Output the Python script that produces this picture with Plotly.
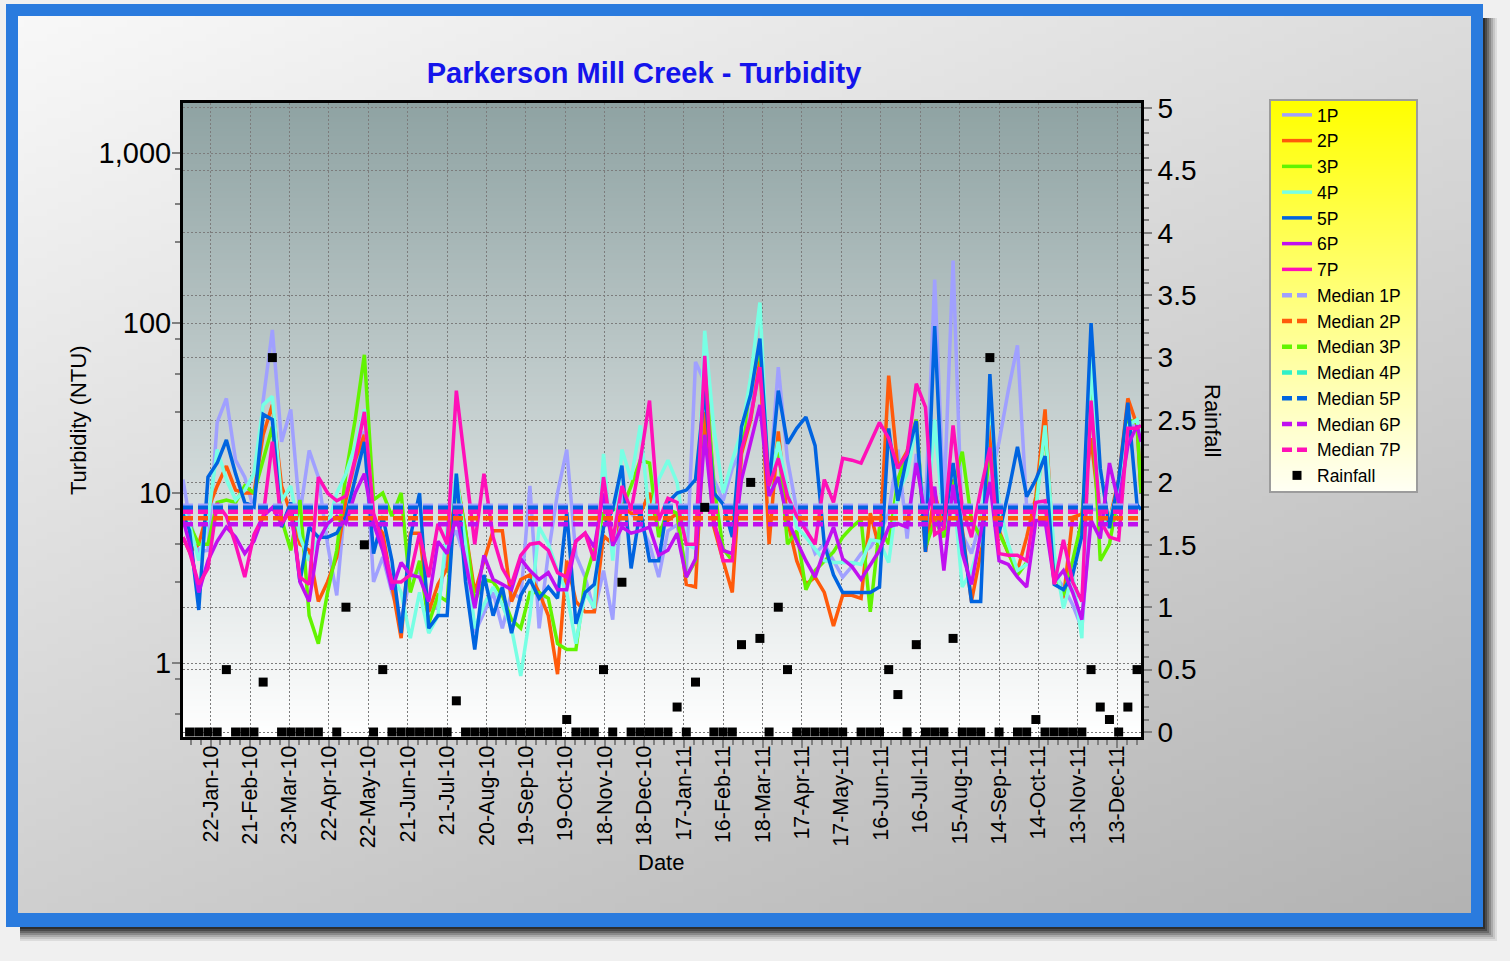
import base64
import struct
import zlib

import numpy as np
import pandas as pd
import plotly.graph_objects as go

# ---------------------------------------------------------------- data
SITES = ["1P", "2P", "3P", "4P", "5P", "6P", "7P"]

# weekly sampling runs, plus the first and last day of the record
WEEKLY = pd.date_range("2010-01-06", periods=104, freq="7D").strftime("%Y-%m-%d").tolist()
SAMPLE_DATES = ["2010-01-01"] + WEEKLY + ["2011-12-31"]

# turbidity (NTU) per site, one value per sample date
P1 = [12,
      7, 4.5, 4.6, 26, 36, 15.6, 12.4, 8, 35, 91,
      20, 31, 7.6, 17.8, 12.4, 5, 2.5, 10, 14, 23,
      3.0, 4.2, 2.6, 1.8, 3.2, 3.5, 2.1, 2.1, 5, 6,
      4, 1.5, 2, 2.6, 1.6, 2.6, 2.4, 11, 1.6, 4.4,
      10, 18, 4.3, 3.2, 2.0, 3.5, 1.8, 10, 7.6, 6.6,
      5, 3.2, 6, 6.5, 3.5, 59, 45, 12, 9, 14,
      18, 30, 65, 11, 55, 15.6, 8, 6.3, 4.4, 5,
      4, 3.2, 3.7, 4.4, 4.8, 5.8, 7.6, 18, 5.4, 17,
      8.2, 180, 8.7, 233, 5.7, 4.4, 6.9, 12, 20, 40,
      74, 8.2, 8.7, 8, 3.3, 2.8, 2.2, 1.6, 8, 8,
      6.3, 8.2, 23, 27,
      12]
P2 = [5.5,
      4.5, 5, 8, 11, 14.4, 10.4, 10, 10, 22, 33,
      11, 7.6, 5, 4.6, 2.3, 3.0, 4.2, 9.1, 15.6, 22,
      6.9, 5.8, 2.9, 1.4, 5.8, 5.8, 2.0, 2.9, 3.6, 12.4,
      6, 2.6, 4, 6, 6, 2.3, 3.1, 3.3, 2.6, 1.9,
      0.86, 4, 2.3, 2.0, 2.0, 5.6, 5, 8.3, 7.6, 7.6,
      10, 6, 6.9, 7.6, 2.9, 2.8, 30, 6.3, 4, 2.6,
      17, 27, 60, 5, 23, 6.9, 4, 2.9, 3.2, 2.6,
      1.65, 2.5, 2.5, 2.4, 7.6, 4.7, 49, 14, 17.6, 27,
      4.5, 10, 6.1, 12, 6.1, 2.3, 4.4, 25, 6, 4.4,
      3.5, 5.5, 9.5, 31, 3.5, 2.4, 7.2, 7.5, 21, 6.9,
      6.9, 12, 36, 25,
      10]
P3 = [7,
      6.5, 5, 5, 8.8, 9.1, 8.8, 11, 10, 16, 24.5,
      7, 4.6, 9.1, 1.9, 1.3, 2.6, 4.6, 13, 27, 65,
      9.1, 10, 7.3, 10, 2.6, 4, 1.7, 2.5, 2.3, 12,
      6, 2.3, 3.1, 3.0, 2.5, 1.8, 1.6, 2.6, 2.6, 2.4,
      1.3, 1.2, 1.2, 3.1, 4.7, 7.6, 8, 8, 11, 15.6,
      15, 5.5, 8, 7.6, 3.2, 4, 60, 11, 4.7, 4,
      18, 44, 70, 10, 20, 5, 6, 2.7, 3.5, 4,
      4.5, 5.5, 6.3, 7, 2.0, 6.3, 5, 12, 17, 27,
      4.8, 6.9, 5.5, 10.9, 17.5, 6.9, 5.5, 18, 5.8, 4.5,
      3.3, 3.9, 8.5, 24, 3.5, 2.5, 4, 6.9, 42, 4,
      5, 10, 27, 26,
      10]
P4 = [8,
      6.5, 4, 7, 18, 12, 9.1, 10.4, 13, 33, 37,
      9, 11, 5.5, 4, 5.5, 6.3, 10, 13, 19, 31,
      6.9, 4.6, 3.4, 2.6, 1.4, 2.6, 1.5, 1.9, 6.3, 13,
      5, 1.6, 2.2, 2.8, 2.2, 1.6, 0.84, 1.9, 6.3, 5,
      3.5, 2.6, 1.3, 2.6, 2.1, 17, 4, 18, 12, 25,
      7, 12, 15.6, 11.5, 5, 4.7, 90, 24, 10, 15.6,
      23, 48, 132, 10.4, 20, 10.4, 6.3, 5.5, 4.7, 4,
      3.9, 3.9, 3.9, 3.8, 5.3, 5.2, 3.9, 10, 13, 25,
      5.5, 27, 6.2, 10.9, 2.8, 3.5, 5.3, 35, 8.7, 5,
      3.5, 3.8, 8, 25, 4.4, 2.1, 3.3, 1.4, 66, 6.9,
      6.9, 10.9, 25, 27,
      20]
P5 = [7.5,
      6, 2.05, 12.4, 15, 20.5, 13, 8.8, 8.3, 29, 27,
      6.3, 8.8, 3.0, 6.3, 5.5, 5.5, 5.8, 7.3, 12.4, 20,
      4.4, 7.3, 4, 1.5, 5.5, 10, 1.6, 1.9, 1.9, 13,
      3, 1.2, 3.3, 1.9, 2.8, 1.5, 2.5, 3.1, 2.4, 2.8,
      2.4, 7.7, 1.7, 2.6, 2.9, 6.3, 8, 14.5, 3.6, 8,
      4, 4, 8.8, 10, 10.4, 12, 40, 10, 8.6, 5.5,
      24.5, 38, 81, 11, 40, 19.5, 24, 28, 19, 5,
      3.3, 2.6, 2.6, 2.6, 2.6, 2.8, 24, 9, 16.5, 26.5,
      4.5, 96, 6.2, 15, 5.7, 2.3, 2.3, 50, 5.8, 10,
      18.7, 9.5, 12, 16.5, 2.9, 2.7, 3.3, 5.6, 100, 14,
      6.2, 12, 34, 8.5,
      8]
P6 = [7,
      5, 2.6, 4, 5.2, 6.3, 5.5, 4.4, 5.2, 7.3, 8.2,
      6.6, 8.2, 3.0, 2.3, 5.2, 6.6, 7.3, 6.6, 10, 13,
      6.6, 4.6, 2.7, 3.9, 3.3, 3.2, 2.3, 5.2, 4.4, 7.5,
      4, 2.1, 4.3, 3.1, 2.9, 2.7, 4.1, 3.5, 3.1, 3.4,
      2.7, 2.7, 5.2, 5.8, 4.8, 10, 4.9, 6.3, 5.8, 6,
      6.3, 4.3, 4.6, 5.8, 3.2, 4.1, 22, 6.6, 4.6, 4.4,
      12, 19.5, 33, 9.6, 12.4, 7, 5.2, 4, 3.2, 4.6,
      6.3, 4.1, 3.7, 3.1, 3.8, 4.6, 6.3, 6.6, 6.3, 15,
      7.2, 10.9, 3.5, 11.2, 4.4, 2.9, 5.8, 11.6, 4, 3.8,
      3.2, 2.8, 6.9, 6.9, 3, 3.5, 2.6, 1.8, 6.9, 5.4,
      15, 8.7, 19, 25,
      20]
P7 = [5.5,
      4.5, 2.9, 3.6, 8.7, 7.3, 5.0, 3.2, 5.7, 7.3, 20,
      6.6, 7.9, 3.2, 2.9, 12.4, 10, 9, 9.6, 16, 30,
      7.6, 5.2, 3.0, 3.0, 3.3, 5.8, 3.2, 6.6, 5, 40,
      14, 5, 13, 5.5, 3.6, 2.9, 4.3, 5, 5.1, 4.6,
      3.4, 3.2, 5.2, 5.8, 4, 12.4, 5.2, 11, 7.9, 15.6,
      35, 6.9, 9.3, 8.8, 5, 5, 64, 6.9, 4, 4,
      18, 28, 55, 11, 16, 9.6, 7.3, 6, 5, 12,
      8.8, 16, 15.6, 15, 20, 26, 21, 14, 17, 44,
      32, 5.7, 6.2, 25, 8.2, 5.5, 10.4, 18.5, 4.4, 4.3,
      4.3, 4, 8.8, 9, 2.9, 5.3, 3, 2.3, 35, 6.9,
      5.5, 5.3, 24, 24,
      25]
TURBIDITY = [P1, P2, P3, P4, P5, P6, P7]

# median turbidity per site (NTU)
MEDIAN_NTU = [8.4, 7.1, 7.9, 8.0, 8.2, 6.55, 7.75]

# rainfall (in) on each sample date; None = not recorded
RAIN = [None,
        0, 0, 0, 0, 0.5, 0, 0, 0, 0.4, 3.0,
        0, 0, 0, 0, 0, None, 0, 1.0, None, 1.5,
        0, 0.5, 0, 0, 0, 0, 0, 0, 0, 0.25,
        0, 0, 0, 0, 0, 0, 0, 0, 0, 0,
        0, 0.1, 0, 0, 0, 0.5, 0, 1.2, 0, 0,
        0, 0, 0, 0.2, 0, 0.4, 1.8, 0, 0, 0,
        0.7, 2.0, 0.75, 0, 1.0, 0.5, 0, 0, 0, 0,
        0, 0, None, 0, 0, 0, 0.5, 0.3, 0, 0.7,
        0, 0, 0, 0.75, 0, 0, 0, 3.0, 0, None,
        0, 0, 0.1, 0, 0, 0, 0, 0, 0.5, 0.2,
        0.1, 0, 0.2, 0.5,
        None]

X_RANGE = ["2010-01-01", "2011-12-31"]
X_TICK0 = "2010-01-22"
DAY_MS = 86400000

NTU_TICKS = [1, 10, 100, 1000]
NTU_TICK_TEXT = ["1", "10", "100", "1,000"]
NTU_MINOR = [0.5, 0.8, 3, 5, 8, 30, 50, 80, 300, 500, 800]

LINE_COLORS = ["#A0A0FF", "#FF5A0A", "#62F400", "#78FFE4", "#0064E0", "#C010F0", "#FF10B8"]
MEDIAN_COLORS = ["#A0A0FF", "#FF5A0A", "#62F400", "#30F0C8", "#0064E0", "#C010F0", "#FF10B8"]

# ---------------------------------------------------------------- geometry
FIG_W, FIG_H = 1510, 961
L, R, T, B = 183, 1141, 103, 737
FONT = "Liberation Sans, Arial, Helvetica, sans-serif"


def fx(px):
    return (px - L) / (R - L)


def fy(py):
    return (B - py) / (B - T)


def png_uri(rgb):
    """Encode an HxWx3 uint8 array as a PNG data URI."""
    h, w, _ = rgb.shape
    raw = b"".join(b"\x00" + rgb[row].tobytes() for row in range(h))

    def chunk(tag, data):
        out = struct.pack(">I", len(data)) + tag + data
        return out + struct.pack(">I", zlib.crc32(tag + data) & 0xFFFFFFFF)

    png = (b"\x89PNG\r\n\x1a\n"
           + chunk(b"IHDR", struct.pack(">IIBBBBB", w, h, 8, 2, 0, 0, 0))
           + chunk(b"IDAT", zlib.compress(raw, 9))
           + chunk(b"IEND", b""))
    return "data:image/png;base64," + base64.b64encode(png).decode()


def vertical_gradient(top, bottom, h=256, w=4):
    t = np.linspace(0.0, 1.0, h)[:, None, None]
    a = np.array(top, float)[None, None, :]
    b = np.array(bottom, float)[None, None, :]
    img = a + (b - a) * t
    return np.repeat(img, w, axis=1).round().astype(np.uint8)


def diagonal_gray(h=128, w=128):
    u = np.linspace(0.0, 1.0, w)[None, :]
    v = np.linspace(0.0, 1.0, h)[:, None]
    g = 248 - 28 * u - 41 * v
    return np.repeat(g[:, :, None], 3, axis=2).round().astype(np.uint8)


def img(src, x0, y0, x1, y1):
    return dict(source=src, xref="paper", yref="paper",
                x=fx(x0), y=fy(y0), sizex=(x1 - x0) / (R - L), sizey=(y1 - y0) / (B - T),
                xanchor="left", yanchor="top", sizing="stretch", layer="below")


def rect(x0, y0, x1, y1, fill=None, line_color=None, line_width=0):
    return dict(type="rect", xref="paper", yref="paper", layer="below",
                x0=fx(x0), x1=fx(x1), y0=fy(y1), y1=fy(y0),
                fillcolor=fill if fill else "rgba(0,0,0,0)",
                line=dict(color=line_color if line_color else "rgba(0,0,0,0)", width=line_width))


# ---------------------------------------------------------------- traces
fig = go.Figure()

for name, vals, color in zip(SITES, TURBIDITY, LINE_COLORS):
    fig.add_trace(go.Scatter(x=SAMPLE_DATES, y=vals, name=name, mode="lines",
                             line=dict(color=color, width=3.5), connectgaps=True))

for name, med, color in zip(SITES, MEDIAN_NTU, MEDIAN_COLORS):
    fig.add_trace(go.Scatter(x=X_RANGE, y=[med, med], name="Median " + name, mode="lines",
                             line=dict(color=color, width=4.5, dash="10px,5px")))

fig.add_trace(go.Scatter(x=SAMPLE_DATES, y=RAIN, name="Rainfall", mode="markers", yaxis="y2",
                         marker=dict(symbol="square", size=9, color="black")))

# ---------------------------------------------------------------- decoration
images = [
    img(png_uri(diagonal_gray()), 18, 16, 1471, 913),
    img(png_uri(vertical_gradient((143, 163, 163), (255, 255, 255))), L, T, R, B),
    img(png_uri(vertical_gradient((255, 255, 0), (255, 255, 244))), 1271, 101, 1416, 491),
]

shapes = []
# soft drop shadow to the right of and below the frame
shades = ["#DCDCDC", "#C6C6C6", "#AAAAAA", "#8A8A8A", "#6A6A6A", "#4A4A4A", "#2E2E2E"]
for ext, col in zip([14, 12, 10, 8, 6, 4, 2], shades):
    shapes.append(rect(1483, 18, 1483 + ext, 927 + ext, fill=col))
    shapes.append(rect(20, 927, 1483 + ext, 927 + ext, fill=col))
# blue frame
FRAME_BLUE = "#2A7BDE"
shapes += [
    rect(6, 4, 1483, 16, fill=FRAME_BLUE),
    rect(6, 913, 1483, 927, fill=FRAME_BLUE),
    rect(6, 16, 18, 913, fill=FRAME_BLUE),
    rect(1471, 16, 1483, 913, fill=FRAME_BLUE),
]
# legend box outline
shapes.append(rect(1270, 100, 1417, 492, line_color="#9C9C9C", line_width=2))

GRID = dict(showgrid=True, gridcolor="#7C7C7C", gridwidth=1, griddash="2px,2px")
TICKS = dict(ticks="outside", ticklen=8, tickwidth=2, tickcolor="#808080")

fig.update_layout(
    width=FIG_W, height=FIG_H,
    margin=dict(l=L, r=FIG_W - R, t=T, b=FIG_H - B, pad=0, autoexpand=False),
    paper_bgcolor="#F0F0F0",
    plot_bgcolor="rgba(0,0,0,0)",
    font=dict(family=FONT, color="black"),
    images=images,
    shapes=shapes,
    title=dict(text="Parkerson Mill Creek - Turbidity",
               x=644 / FIG_W, xref="container", xanchor="center",
               y=1 - 73 / FIG_H, yref="container", yanchor="middle",
               font=dict(family=FONT, size=29, color="#1414EB", weight="bold")),
    xaxis=dict(type="date", range=X_RANGE, tick0=X_TICK0, dtick=30 * DAY_MS,
               tickformat="%d-%b-%y", tickangle=-90, tickfont=dict(size=21.5),
               ticklabelstandoff=-11,
               showline=True, linecolor="black", linewidth=3, mirror=True,
               zeroline=False, **TICKS, **GRID,
               minor=dict(dtick=7.5 * DAY_MS, tick0=X_TICK0, ticks="outside", ticklen=5,
                          tickwidth=1.5, tickcolor="#808080", showgrid=False)),
    yaxis=dict(type="log", range=[-0.4353, 3.2941],
               tickvals=NTU_TICKS, ticktext=NTU_TICK_TEXT, ticklabelstandoff=-5,
               tickfont=dict(size=29), showline=True, linecolor="black", linewidth=3,
               zeroline=False, **TICKS, **GRID,
               minor=dict(tickvals=NTU_MINOR, ticks="outside", ticklen=5, tickwidth=1.5,
                          tickcolor="#808080", showgrid=False)),
    yaxis2=dict(overlaying="y", side="right", range=[-0.04, 5.04], tick0=0, dtick=0.5,
                tickfont=dict(size=28), showline=True, linecolor="black", linewidth=3,
                zeroline=False, **TICKS, **GRID,
                minor=dict(dtick=0.1, tick0=0, ticks="outside", ticklen=5, tickwidth=1.5,
                           tickcolor="#808080", showgrid=False)),
    legend=dict(x=fx(1277), y=fy(97), xanchor="left", yanchor="top",
                bgcolor="rgba(0,0,0,0)", borderwidth=0, tracegroupgap=0, itemwidth=30,
                font=dict(family=FONT, size=17.5, color="black")),
    showlegend=True,
    annotations=[
        dict(text="Turbidity (NTU)", x=fx(78), y=fy(420), xref="paper", yref="paper",
             textangle=-90, showarrow=False, xanchor="center", yanchor="middle",
             font=dict(size=22)),
        dict(text="Rainfall", x=fx(1213), y=fy(420), xref="paper", yref="paper",
             textangle=90, showarrow=False, xanchor="center", yanchor="middle",
             font=dict(size=22)),
        dict(text="Date", x=fx(661), y=fy(862), xref="paper", yref="paper",
             showarrow=False, xanchor="center", yanchor="middle", font=dict(size=22)),
    ],
)

fig.write_html("out.html", config={"displayModeBar": False})
